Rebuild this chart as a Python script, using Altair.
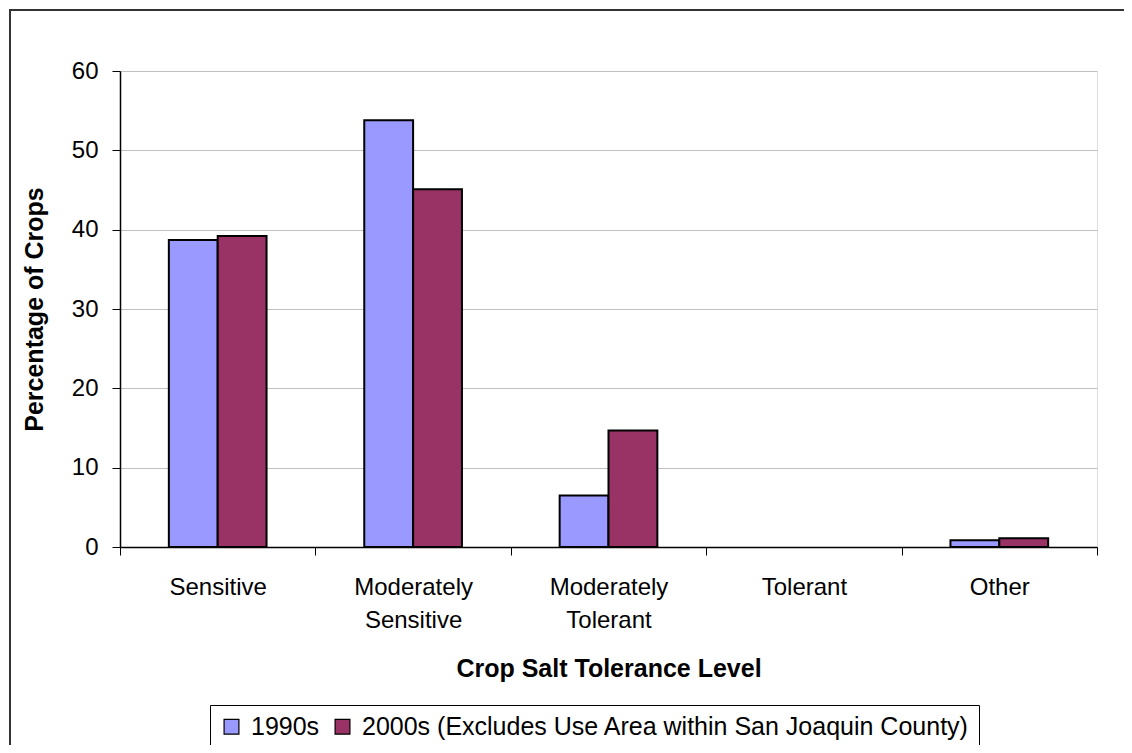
import altair as alt
import pandas as pd

categories = ["Sensitive", "Moderately Sensitive", "Moderately Tolerant", "Tolerant", "Other"]
series = ["1990s", "2000s (Excludes Use Area within San Joaquin County)"]
values_1990s = [38.7, 53.8, 6.5, 0.0, 0.85]
values_2000s = [39.2, 45.1, 14.7, 0.0, 1.1]
y_ticks = [0, 10, 20, 30, 40, 50, 60]
colors = ["#9999FF", "#993366"]

rows = []
for c, a, b in zip(categories, values_1990s, values_2000s):
    rows.append({"category": c, "series": series[0], "value": a})
    rows.append({"category": c, "series": series[1], "value": b})
df = pd.DataFrame(rows)

FONT = "Liberation Sans"

bars = alt.Chart(df).mark_bar(strokeWidth=2).encode(
    x=alt.X("category:N", sort=categories,
            scale=alt.Scale(paddingInner=0, paddingOuter=0),
            axis=alt.Axis(title="Crop Salt Tolerance Level", labelAngle=0,
                          labelExpr="split(datum.label, ' ')",
                          labelFontSize=24, labelFont=FONT, labelColor="black",
                          labelPadding=20, labelLineHeight=33,
                          tickBand="extent", tickSize=8, tickColor="black",
                          domainColor="black", domainWidth=1.5,
                          titleFontSize=25, titleFont=FONT, titleFontWeight="bold",
                          titlePadding=24, titleColor="black", grid=False)),
    xOffset=alt.XOffset("series:N", sort=series,
                        scale=alt.Scale(paddingInner=0, paddingOuter=1)),
    y=alt.Y("value:Q", scale=alt.Scale(domain=[0, 60], nice=False),
            axis=alt.Axis(title="Percentage of Crops", values=y_ticks,
                          labelFontSize=24, labelFont=FONT, labelColor="black",
                          labelPadding=14, tickSize=8, tickColor="black",
                          domainColor="black", domainWidth=1.5,
                          gridColor="#C0C0C0", gridWidth=1.2,
                          titleFontSize=25, titleFont=FONT, titleFontWeight="bold",
                          titlePadding=24, titleColor="black")),
    color=alt.Color("series:N", sort=series,
                    scale=alt.Scale(domain=series, range=colors),
                    legend=alt.Legend(title=None, orient="none", direction="horizontal",
                                      legendX=90, legendY=634,
                                      symbolType="square", symbolSize=220,
                                      symbolStrokeColor="black", symbolStrokeWidth=1.2,
                                      labelFontSize=25, labelFont=FONT, labelColor="black",
                                      labelOffset=7, columnPadding=10, labelLimit=900,
                                      strokeColor="black", padding=9,
                                      fillColor="white")),
    stroke=alt.condition(alt.datum.value > 0, alt.value("black"), alt.value("transparent")),
)

frame = alt.Chart(df).mark_rect(fill=None, stroke="#333333", strokeWidth=2).encode(
    x=alt.value(-110), x2=alt.value(1040),
    y=alt.value(-61), y2=alt.value(700),
)

chart = alt.layer(frame, bars).properties(
    width=977, height=476,
    autosize=alt.AutoSizeParams(type="none"),
    padding={"left": 112, "top": 63, "right": 27, "bottom": 198},
).configure_view(stroke="black", strokeWidth=1.5).configure(background="white")

chart.save("out.html", embed_options={"renderer": "svg", "actions": False})
